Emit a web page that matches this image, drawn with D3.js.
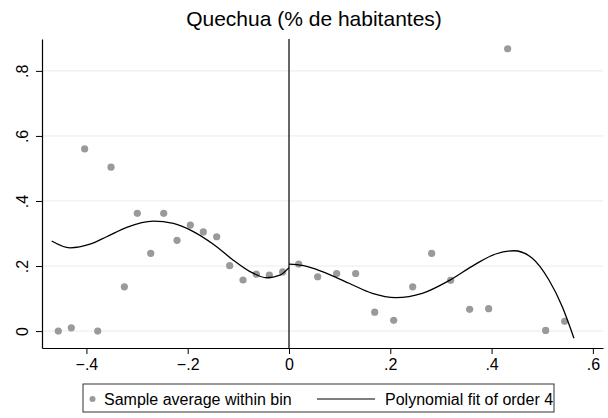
<!DOCTYPE html>
<html>
<head>
<meta charset="utf-8">
<script src="https://cdn.jsdelivr.net/npm/d3@7"></script>
<style>
	body { margin: 0; background: #fff; }
	svg { display: block; font-family: "Liberation Sans", Arial, Helvetica, sans-serif; }
</style>
</head>
<body>
<div id="chart"></div>
<script>
// binned sample averages (x = bin centre, y = share)
const binX = [-0.4555, -0.4298, -0.4035, -0.3777, -0.3514, -0.3251, -0.2995, -0.2731, -0.2474, -0.2211,
	-0.1948, -0.1692, -0.1428, -0.1171, -0.0908, -0.0645, -0.0388, -0.0125,
	0.0191, 0.0566, 0.0941, 0.1316, 0.1692, 0.2067, 0.2442, 0.2817, 0.3192, 0.3567, 0.3942, 0.4317, 0.5068, 0.5443];
const binY = [0.000, 0.010, 0.560, 0.000, 0.504, 0.136, 0.362, 0.239, 0.362, 0.279,
	0.326, 0.305, 0.290, 0.201, 0.157, 0.175, 0.172, 0.182,
	0.206, 0.167, 0.177, 0.177, 0.058, 0.033, 0.136, 0.239, 0.156, 0.067, 0.069, 0.868, 0.002, 0.030];

// polynomial fit
const fitLeftX = [-0.4686, -0.4324, -0.3929, -0.3600, -0.3204, -0.2679, -0.2284, -0.1889, -0.1494, -0.1099, -0.0770, -0.0441, -0.0178, 0];
const fitLeftY = [0.277, 0.256, 0.267, 0.290, 0.319, 0.338, 0.331, 0.306, 0.267, 0.218, 0.183, 0.164, 0.172, 0.195];
const fitRightX = [0, 0.0263, 0.0658, 0.1185, 0.1645, 0.2106, 0.2632, 0.3159, 0.3686, 0.4081, 0.4442, 0.4804, 0.5133, 0.5396, 0.5627];
const fitRightY = [0.206, 0.202, 0.183, 0.147, 0.116, 0.103, 0.116, 0.155, 0.206, 0.237, 0.247, 0.224, 0.157, 0.075, -0.022];

const xTicks = [-0.4, -0.2, 0, 0.2, 0.4, 0.6];
const yTicks = [0, 0.2, 0.4, 0.6, 0.8];
const titleText = 'Quechua (% de habitantes)';
const legendLabels = ['Sample average within bin', 'Polynomial fit of order 4'];

const width = 608, height = 418;
const margin = {top: 39, right: 5, bottom: 70, left: 42};
const fmt = d => d === 0 ? '0' : d3.format('.1f')(d).replace('0.', '.');

var svg = d3.select('#chart').append('svg')
	.attr('width', width)
	.attr('height', height);

var x = d3.scaleLinear()
	.domain([-0.4877, 0.62])
	.range([margin.left, width - margin.right]);
var y = d3.scaleLinear()
	.domain([-0.052, 0.898])
	.range([height - margin.bottom, margin.top]);

// gridlines
svg.append('g')
	.selectAll('line')
	.data(yTicks)
	.enter()
	.append('line')
		.attr('x1', margin.left)
		.attr('x2', width - margin.right)
		.attr('y1', d => y(d))
		.attr('y2', d => y(d))
		.attr('stroke', '#e4eded')
		.attr('stroke-width', 1);

// axes
var xAxis = svg.append('g')
	.attr('transform', 'translate(0,' + y.range()[0] + ')')
	.call(d3.axisBottom(x).tickValues(xTicks).tickFormat(fmt).tickSize(6).tickSizeOuter(0));
xAxis.select('.domain').attr('stroke', '#000').attr('stroke-width', 1.2);
xAxis.selectAll('.tick line').attr('stroke', '#000');
xAxis.selectAll('text')
	.attr('y', 11)
	.attr('fill', '#000')
	.style('font-size', '16px');

var yAxis = svg.append('g')
	.attr('transform', 'translate(' + margin.left + ',0)')
	.call(d3.axisLeft(y).tickValues(yTicks).tickFormat(fmt).tickSize(6).tickSizeOuter(0));
yAxis.select('.domain').attr('stroke', '#000').attr('stroke-width', 1.2);
yAxis.selectAll('.tick line').attr('stroke', '#000');
yAxis.selectAll('text')
	.attr('x', 0)
	.attr('dy', 0)
	.attr('transform', 'translate(-14,0) rotate(-90)')
	.attr('text-anchor', 'middle')
	.attr('fill', '#000')
	.style('font-size', '16px');

// cutoff line
svg.append('line')
	.attr('x1', x(0)).attr('x2', x(0))
	.attr('y1', y.range()[1]).attr('y2', y.range()[0])
	.attr('stroke', '#000')
	.attr('stroke-width', 1.2);

// bins
var bins = binX.map((v, i) => ({x: v, y: binY[i]}));
svg.append('g')
	.selectAll('circle')
	.data(bins)
	.enter()
	.append('circle')
		.attr('cx', d => x(d.x))
		.attr('cy', d => y(d.y))
		.attr('r', 3.6)
		.attr('fill', '#9a9a9a');

// fit lines
var line = d3.line()
	.x(d => x(d.x))
	.y(d => y(d.y))
	.curve(d3.curveMonotoneX);
[[fitLeftX, fitLeftY], [fitRightX, fitRightY]].forEach(s => {
	svg.append('path')
		.datum(s[0].map((v, i) => ({x: v, y: s[1][i]})))
		.attr('d', line)
		.attr('fill', 'none')
		.attr('stroke', '#000')
		.attr('stroke-width', 1.3);
});

// title
svg.append('text')
	.attr('x', 314)
	.attr('y', 26)
	.attr('text-anchor', 'middle')
	.style('font-size', '21px')
	.text(titleText);

// legend
var legend = svg.append('g');
legend.append('rect')
	.attr('x', 83).attr('y', 384)
	.attr('width', 471).attr('height', 28)
	.attr('fill', '#fff')
	.attr('stroke', '#333')
	.attr('stroke-width', 1);
legend.append('circle')
	.attr('cx', 92.5).attr('cy', 399)
	.attr('r', 3)
	.attr('fill', '#9a9a9a');
legend.append('text')
	.attr('x', 104).attr('y', 404.5)
	.style('font-size', '16px')
	.text(legendLabels[0]);
legend.append('line')
	.attr('x1', 317).attr('x2', 375)
	.attr('y1', 399).attr('y2', 399)
	.attr('stroke', '#000')
	.attr('stroke-width', 1.2);
legend.append('text')
	.attr('x', 385).attr('y', 404.5)
	.style('font-size', '16px')
	.text(legendLabels[1]);
</script>
</body>
</html>
